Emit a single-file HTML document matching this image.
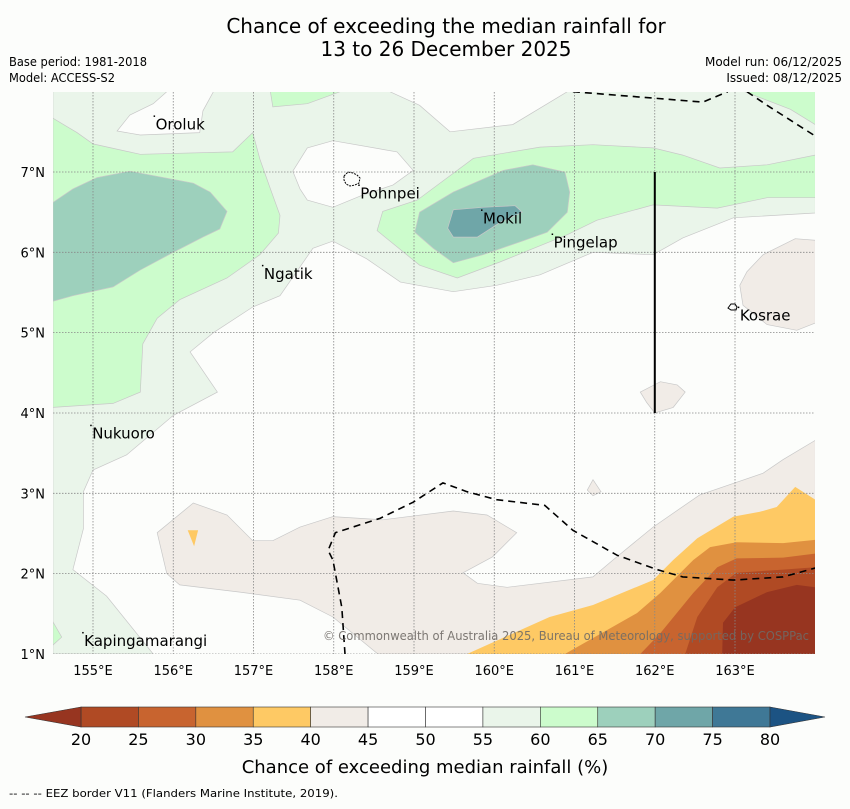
<!DOCTYPE html>
<html><head><meta charset="utf-8"><style>
html,body{margin:0;padding:0;background:#fcfdfb;}
body{width:850px;height:804px;overflow:hidden;font-family:"Liberation Sans","DejaVu Sans",sans-serif;}
</style></head><body>
<svg id="chart" width="850" height="804" xmlns="http://www.w3.org/2000/svg" font-family="DejaVu Sans, Liberation Sans, sans-serif">
<text x="446" y="33" font-size="20" text-anchor="middle">Chance of exceeding the median rainfall for</text>
<text x="446" y="56" font-size="20" text-anchor="middle">13 to 26 December 2025</text>
<text x="9" y="66" font-size="12" textLength="138" lengthAdjust="spacingAndGlyphs">Base period: 1981-2018</text>
<text x="9" y="82" font-size="12" textLength="106" lengthAdjust="spacingAndGlyphs">Model: ACCESS-S2</text>
<text x="842" y="66" font-size="12" text-anchor="end">Model run: 06/12/2025</text>
<text x="842" y="82" font-size="12" text-anchor="end">Issued: 08/12/2025</text>
<defs><clipPath id="mapclip"><rect x="53" y="92" width="762" height="562"/></clipPath></defs>
<g id="map" clip-path="url(#mapclip)">
<rect x="53" y="92" width="762" height="562" fill="#fcfdfb"/>
<g id="fills"></g><g id="grid"></g><g id="lines"></g>
</g>
<g id="axes"></g>
<g id="labels"></g>
<text x="323" y="640" font-size="12" fill="#6f6a66" fill-opacity="0.9" textLength="486" lengthAdjust="spacingAndGlyphs">© Commonwealth of Australia 2025, Bureau of Meteorology, supported by COSPPac</text>
<g id="colorbar"></g>
<text x="425" y="773" font-size="18" text-anchor="middle">Chance of exceeding median rainfall (%)</text>
<text x="9" y="797" font-size="11" textLength="329" lengthAdjust="spacingAndGlyphs">--  --  -- EEZ border V11 (Flanders Marine Institute, 2019).</text>
</svg>
<script>
const lonTicks=[155,156,157,158,159,160,161,162,163];
const latTicks=[1,2,3,4,5,6,7];
const cbLevels=[20,25,30,35,40,45,50,55,60,65,70,75,80];
const cbColors=["#b04a24","#c8642f","#e09140","#fec964","#f1ece7","#ffffff","#ffffff","#eaf5ea","#ccfccc","#9dd0bc","#6fa6a8","#3f7896"];
const cbLow="#973520", cbHigh="#1c5383";
const lvlColor={pg:"#eaf5ea",bg:"#ccfccc",t1:"#9dd0bc",t2:"#6fa6a8",w:"#fcfdfb",b:"#f1ece7",y:"#fec964",o:"#e09140",r1:"#c8642f",r2:"#b04a24",r3:"#973520"};
const pgMain=[[154.5,8],[164,8],[164,6.49],[162.98,6.43],[162.35,6.18],[161.98,5.97],[161.23,6.0],[160.57,5.72],[160.03,5.59],[159.49,5.51],[158.83,5.63],[158.41,5.92],[157.99,6.14],[157.74,6.05],[157.33,5.46],[156.99,5.32],[156.5,5.0],[156.21,4.76],[156.55,4.26],[156.0,3.97],[155.42,3.48],[155.0,3.29],[154.88,3.02],[154.88,2.56],[154.75,2.05],[155.17,1.72],[155.75,1.0],[154.5,1.0]];
const whiteOroluk=[[155.3,7.51],[155.46,7.71],[155.75,7.85],[155.92,8.0],[156.5,8.0],[156.37,7.76],[156.33,7.49],[155.59,7.46]];
const whitePohnpei=[[157.49,7.01],[157.67,7.3],[157.99,7.39],[158.79,7.25],[158.99,7.02],[158.74,6.84],[158.33,6.7],[157.99,6.56],[157.67,6.65],[157.58,6.79]];
const whiteTop=[[158.7,8.0],[159.07,7.83],[159.45,7.5],[160.23,7.59],[160.91,8.0]];
const bgLeft=[[154.5,7.67],[154.8,7.49],[155.0,7.35],[155.59,7.22],[156.74,7.25],[156.99,7.49],[157.08,7.16],[157.21,6.79],[157.33,6.46],[157.31,6.24],[157.08,5.97],[156.67,5.68],[156.08,5.41],[155.8,5.18],[155.62,4.86],[155.59,4.26],[155.25,4.12],[154.5,4.07]];
const bgTop=[[157.21,8.0],[157.24,7.81],[157.67,7.85],[158.08,8.0]];
const bgCorner=[[154.5,1.4],[154.61,1.21],[154.5,1.11]];
const bgBand=[[158.54,6.27],[158.61,6.51],[159.04,6.65],[159.74,7.17],[160.57,7.31],[161.23,7.34],[161.98,7.3],[162.35,7.21],[162.81,7.05],[163.4,7.09],[164,7.21],[164,6.68],[163.4,6.68],[162.78,6.55],[161.98,6.59],[161.28,6.4],[160.91,6.22],[160.07,5.88],[159.54,5.68],[159.07,5.84]];
const bgTopRight=[[163.12,8.0],[164,8],[164,7.59],[163.69,7.78]];
const tealLeft=[[154.5,6.62],[154.75,6.79],[155.05,6.93],[155.46,7.01],[156.25,6.86],[156.46,6.75],[156.67,6.51],[156.58,6.29],[156.37,6.19],[156.0,6.0],[155.59,5.78],[155.25,5.57],[154.75,5.46],[154.5,5.39]];
const tealMokil=[[159.07,6.5],[159.49,6.75],[160.11,7.02],[160.48,7.09],[160.88,7.0],[160.94,6.75],[160.91,6.5],[160.66,6.25],[160.32,6.13],[159.86,5.97],[159.49,5.87],[159.24,6.05],[159.01,6.25]];
const darkMokil=[[159.49,6.53],[159.86,6.56],[160.26,6.58],[160.35,6.5],[160.07,6.37],[159.79,6.19],[159.49,6.19],[159.42,6.3]];
const beigeKosrae=[[163.15,5.76],[163.35,5.97],[163.75,6.17],[164,6.15],[164,5.12],[163.77,5.03],[163.4,5.1],[163.1,5.34],[163.06,5.59]];
const beigeSmall=[[161.82,4.26],[162.07,4.39],[162.28,4.35],[162.38,4.26],[162.23,4.07],[162.0,4.0],[161.9,4.13]];
const beigeTiny=[[161.16,3.04],[161.23,3.17],[161.33,3.02],[161.23,2.97]];
const beigeSouth=[[155.8,2.51],[156.25,2.88],[156.67,2.73],[156.99,2.41],[157.24,2.41],[157.58,2.58],[157.99,2.71],[158.61,2.67],[159.49,2.78],[159.91,2.73],[160.28,2.51],[159.98,2.21],[159.61,2.01],[159.79,1.88],[160.16,1.83],[161.23,1.96],[161.48,2.17],[161.98,2.58],[162.56,2.98],[163.35,3.25],[163.6,3.42],[164,3.66],[164,1.0],[158.55,1.0],[157.99,1.46],[157.58,1.67],[156.83,1.77],[156.08,1.86],[155.92,2.0]];
const yellowBlob=[[156.18,2.54],[156.31,2.54],[156.26,2.34]];
const yellow35=[[159.66,1.0],[160.69,1.46],[161.23,1.61],[161.98,1.92],[162.23,2.17],[162.53,2.44],[162.98,2.71],[163.31,2.77],[163.52,2.83],[163.75,3.08],[164,2.92],[164,1.0]];
const orange30=[[160.88,1.0],[161.78,1.51],[162.07,1.76],[162.48,2.17],[162.69,2.33],[163.02,2.39],[163.6,2.38],[164,2.42],[164,1.0]];
const red25=[[161.82,1.0],[162.07,1.26],[162.48,1.76],[162.78,2.08],[163.02,2.19],[163.6,2.2],[164,2.25],[164,1.0]];
const red20=[[162.38,1.0],[162.53,1.46],[162.78,1.83],[163.02,2.01],[163.6,2.05],[164,2.08],[164,1.0]];
const redLow=[[162.84,1.0],[162.85,1.39],[163.0,1.58],[163.4,1.77],[163.77,1.86],[164,1.83],[164,1.0]];
const eezSouth=[[158.14,1.0],[158.1,1.58],[157.99,2.17],[157.93,2.29],[158.02,2.51],[158.58,2.69],[158.99,2.89],[159.36,3.13],[159.66,3.02],[160.03,2.92],[160.63,2.85],[160.98,2.54],[161.53,2.23],[162.03,2.05],[162.35,1.96],[162.98,1.92],[163.6,1.96],[164,2.07]];
const eezNorth=[[160.98,8.0],[161.98,7.92],[162.6,7.87],[162.91,8.0]];
const eezNE=[[163.15,8.0],[163.4,7.83],[163.98,7.46]];
const places=["Oroluk","Pohnpei","Mokil","Pingelap","Ngatik","Kosrae","Nukuoro","Kapingamarangi"];
const placeLon=[155.78,158.33,159.86,160.74,157.13,163.06,154.99,154.89];
const placeLat=[7.53,6.67,6.36,6.06,5.67,5.15,3.68,1.10];

const NS="http://www.w3.org/2000/svg";
const X=lon=>93+(lon-155)*80.25;
const Y=lat=>172+(7-lat)*80.33;
function mk(tag,attrs,parent){const e=document.createElementNS(NS,tag);for(const k in attrs)e.setAttribute(k,attrs[k]);parent.appendChild(e);return e;}
const fills=document.getElementById('fills');
function poly(pts,color,name,stroke){
  const d=pts.map((p,i)=>(i?'L':'M')+X(p[0]).toFixed(1)+','+Y(p[1]).toFixed(1)).join('')+'Z';
  const e=mk('path',{d:d,fill:color,stroke:stroke||'#c8c8c8','stroke-width':0.7},fills);
  
  
}
poly(pgMain,lvlColor.pg,'contour-55-60');
poly(whiteOroluk,lvlColor.w,'contour-45-55-oroluk');
poly(whitePohnpei,lvlColor.w,'contour-45-55-pohnpei');
poly(whiteTop,lvlColor.w,'contour-45-55-north');
poly(bgLeft,lvlColor.bg,'contour-60-65-west');
poly(bgTop,lvlColor.bg,'contour-60-65-north');
poly(bgCorner,lvlColor.bg,'contour-60-65-southwest');
poly(bgBand,lvlColor.bg,'contour-60-65-band');
poly(bgTopRight,lvlColor.bg,'contour-60-65-northeast');
poly(tealLeft,lvlColor.t1,'contour-65-70-west');
poly(tealMokil,lvlColor.t1,'contour-65-70-mokil');
poly(darkMokil,lvlColor.t2,'contour-70-75-mokil');
poly(beigeKosrae,lvlColor.b,'contour-40-45-kosrae');
poly(beigeSmall,lvlColor.b,'contour-40-45-small');
poly(beigeTiny,lvlColor.b,'contour-40-45-tiny');
poly(beigeSouth,lvlColor.b,'contour-40-45-south');
poly(yellowBlob,lvlColor.y,'contour-35-40-blob','none');
poly(yellow35,lvlColor.y,'contour-35-40','none');
poly(orange30,lvlColor.o,'contour-30-35','none');
poly(red25,lvlColor.r1,'contour-25-30','none');
poly(red20,lvlColor.r2,'contour-20-25','none');
poly(redLow,lvlColor.r3,'contour-below-20','none');

const grid=document.getElementById('grid');
lonTicks.forEach(l=>{const e=mk('line',{x1:X(l),x2:X(l),y1:92,y2:654,stroke:'#888','stroke-width':0.8,'stroke-dasharray':'1.5,1.5'},grid);

});
latTicks.forEach(l=>{const e=mk('line',{x1:53,x2:815,y1:Y(l),y2:Y(l),stroke:'#888','stroke-width':0.8,'stroke-dasharray':'1.5,1.5'},grid);

});

const lines=document.getElementById('lines');
function pl(pts,name,dash,w){const e=mk('polyline',{points:pts.map(p=>X(p[0]).toFixed(1)+','+Y(p[1]).toFixed(1)).join(' '),fill:'none',stroke:'#000','stroke-width':w,'stroke-dasharray':dash},lines);

}
pl(eezSouth,'eez-border-south','7,5',1.6);
pl(eezNorth,'eez-border-north','7,5',1.6);
pl(eezNE,'eez-border-northeast','7,5',1.6);
pl([[162,7],[162,4]],'boundary-line','none',2);
const isl1=mk('path',{d:'M344,176 l4,-4 l5,1 l4,2 l3,3 l-1,5 l-4,2 l-5,1 l-4,-2 l-2,-4z',fill:'none',stroke:'#000','stroke-width':1,'stroke-dasharray':'2,1'},lines);


const isl2=mk('path',{d:'M728,308 l3,-4 l4,0 l2,3 l-1,3 l-5,0z',fill:'none',stroke:'#000','stroke-width':1},lines);



const axes=document.getElementById('axes');
lonTicks.forEach(l=>{const t=mk('text',{x:X(l),y:675,'font-size':13,'text-anchor':'middle'},axes);t.textContent=l+'°E';

});
latTicks.forEach(l=>{const t=mk('text',{x:45,y:Y(l)+5,'font-size':13,'text-anchor':'end'},axes);t.textContent=l+'°N';

});

const labels=document.getElementById('labels');
places.forEach((p,i)=>{const x=X(placeLon[i]),y=Y(placeLat[i]);
const t=mk('text',{x:x,y:y,'font-size':15},labels);t.textContent=p;


const d=mk('rect',{x:x-2,y:y-14,width:1.5,height:1.5,fill:'#000'},labels);

});

const cb=document.getElementById('colorbar');
const cbX=v=>81+(v-20)*(770-81)/60;
for(let i=0;i<cbColors.length;i++){const r=mk('rect',{x:cbX(cbLevels[i]),y:707,width:cbX(cbLevels[i+1])-cbX(cbLevels[i]),height:20,fill:cbColors[i],stroke:'#333','stroke-width':0.6},cb);

}
const tl=mk('polygon',{points:`${cbX(20)},707 25,717 ${cbX(20)},727`,fill:cbLow,stroke:'#333','stroke-width':0.6},cb);


const tr=mk('polygon',{points:`${cbX(80)},707 825,717 ${cbX(80)},727`,fill:cbHigh,stroke:'#333','stroke-width':0.6},cb);


cbLevels.forEach(v=>{const t=mk('text',{x:cbX(v),y:745,'font-size':16,'text-anchor':'middle'},cb);t.textContent=v;

});
</script>
</body></html>
